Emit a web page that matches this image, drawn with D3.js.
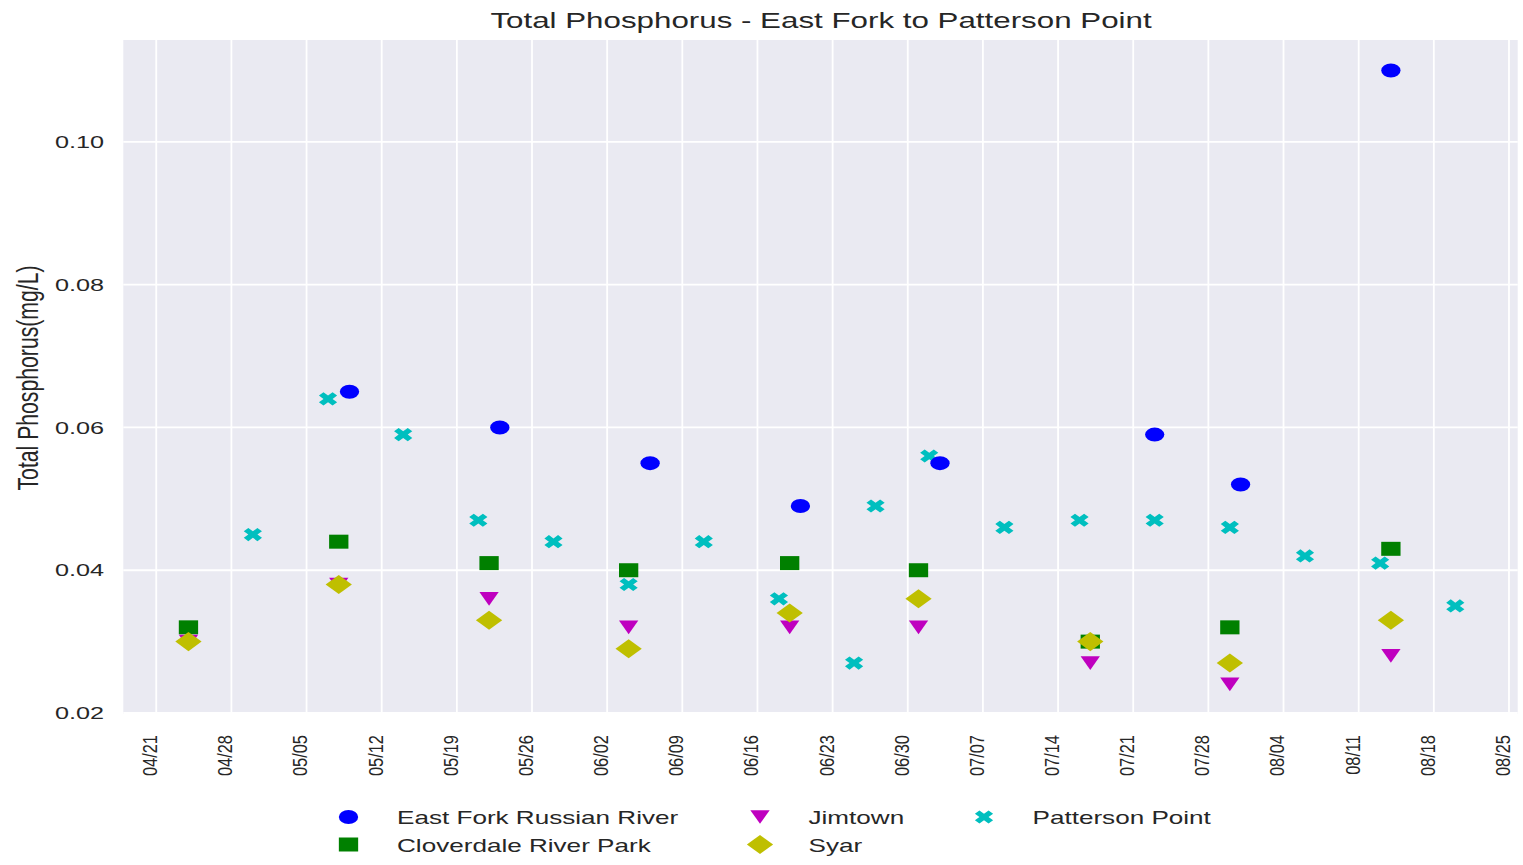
<!DOCTYPE html>
<html><head><meta charset="utf-8">
<script src="https://cdn.jsdelivr.net/npm/d3@7"></script>
<style>
body{margin:0;background:#fff;}
svg{display:block;}
text{font-family:"Liberation Sans",Arial,Helvetica,sans-serif;fill:#262626;}
</style>
</head><body>
<svg id="chart" width="1523" height="865"></svg>
<script>
// ---------------- DATA ----------------
const chartTitle = "Total Phosphorus - East Fork to Patterson Point";
const yAxisLabel = "Total Phosphorus(mg/L)";
const yTickValues = [0.02, 0.04, 0.06, 0.08, 0.10];
const xTickFirst = "2019-04-21";
const xTickLast = "2019-08-25";
const xDomain = ["2019-04-17T22:20", "2019-08-25T19:30"];
const yDomain = [0.01986, 0.11428];

const seriesNames = ["East Fork Russian River", "Cloverdale River Park", "Jimtown", "Syar", "Patterson Point"];

const eastForkDates  = ["2019-05-09","2019-05-23","2019-06-06","2019-06-20","2019-07-03","2019-07-23","2019-07-31","2019-08-14"];
const eastForkValues = [0.065, 0.060, 0.055, 0.049, 0.055, 0.059, 0.052, 0.110];

const sampleDates      = ["2019-04-24","2019-05-08","2019-05-22","2019-06-04","2019-06-19","2019-07-01","2019-07-17","2019-07-30","2019-08-14"];
const cloverdaleValues = [0.032, 0.044, 0.041, 0.040, 0.041, 0.040, 0.030, 0.032, 0.043];
const jimtownValues    = [0.030, 0.038, 0.036, 0.032, 0.032, 0.032, 0.027, 0.024, 0.028];
const syarValues       = [0.030, 0.038, 0.033, 0.029, 0.034, 0.036, 0.030, 0.027, 0.033];

const pattersonDates  = ["2019-04-30","2019-05-07","2019-05-14","2019-05-21","2019-05-28","2019-06-04","2019-06-11","2019-06-18","2019-06-25","2019-06-27","2019-07-02","2019-07-09","2019-07-16","2019-07-23","2019-07-30","2019-08-06","2019-08-13","2019-08-20"];
const pattersonValues = [0.045, 0.064, 0.059, 0.047, 0.044, 0.038, 0.044, 0.036, 0.027, 0.049, 0.056, 0.046, 0.047, 0.047, 0.046, 0.042, 0.041, 0.035];

// ---------------- LAYOUT ----------------
const plot = {left: 123.3, right: 1517.7, top: 40, bottom: 714};
const SXT = 1.45;   // horizontal stretch of text
const SXM = 1.38;   // horizontal stretch of markers
const MR = 7;       // marker radius

const parseDay = d3.utcParse("%Y-%m-%d");
const parseDT = d3.utcParse("%Y-%m-%dT%H:%M");

const svg = d3.select("#chart");

const x = d3.scaleUtc().domain(xDomain.map(parseDT)).range([plot.left, plot.right]);
const y = d3.scaleLinear().domain(yDomain).range([plot.bottom, plot.top]);

// custom matplotlib-like marker shapes
const shapes = {
  circle: {draw(c, r){ c.moveTo(r, 0); c.arc(0, 0, r, 0, 2*Math.PI); c.closePath(); }},
  square: {draw(c, r){ c.rect(-r, -r, 2*r, 2*r); }},
  triDown: {draw(c, r){ const h = r*0.98; c.moveTo(0, h); c.lineTo(-r, -h); c.lineTo(r, -h); c.closePath(); }},
  diamond: {draw(c, r){ const d = r*1.36; c.moveTo(0, -d); c.lineTo(d, 0); c.lineTo(0, d); c.lineTo(-d, 0); c.closePath(); }},
  xFilled: {draw(c, r){
    const pts = [[-1,-3],[1,-3],[1,-1],[3,-1],[3,1],[1,1],[1,3],[-1,3],[-1,1],[-3,1],[-3,-1],[-1,-1]];
    const k = r/3/Math.SQRT2;
    pts.forEach(([a,b], i) => { const px = (a-b)*k, py = (a+b)*k; i ? c.lineTo(px, py) : c.moveTo(px, py); });
    c.closePath();
  }}
};
const symbolPath = t => d3.symbol().type(shapes[t]).size(MR)();

const series = [
  {name: seriesNames[0], dates: eastForkDates, values: eastForkValues, shape: "circle", color: "#0000ff"},
  {name: seriesNames[1], dates: sampleDates, values: cloverdaleValues, shape: "square", color: "#008000"},
  {name: seriesNames[2], dates: sampleDates, values: jimtownValues, shape: "triDown", color: "#bf00bf"},
  {name: seriesNames[3], dates: sampleDates, values: syarValues, shape: "diamond", color: "#bfbf00"},
  {name: seriesNames[4], dates: pattersonDates, values: pattersonValues, shape: "xFilled", color: "#00bfbf"}
];

// background
svg.append("rect").attr("x", plot.left).attr("y", plot.top)
  .attr("width", plot.right - plot.left).attr("height", plot.bottom - plot.top)
  .attr("fill", "#eaeaf2");

// grid (weekly ticks starting on Sunday 04/21)
const xTicks = d3.utcSunday.range(parseDay(xTickFirst), d3.utcDay.offset(parseDay(xTickLast), 1));
const grid = svg.append("g");
grid.selectAll("line.v").data(xTicks).join("line").attr("class","v")
  .attr("x1", d => x(d)).attr("x2", d => x(d)).attr("y1", plot.top).attr("y2", plot.bottom)
  .attr("stroke", "#fff").attr("stroke-width", 1.8);
grid.selectAll("line.h").data(yTickValues).join("line").attr("class","h")
  .attr("x1", plot.left).attr("x2", plot.right).attr("y1", d => y(d)).attr("y2", d => y(d))
  .attr("stroke", "#fff").attr("stroke-width", 1.8);

// y tick labels
const fmtY = d3.format(".2f");
svg.append("g").selectAll("text").data(yTickValues).join("text")
  .attr("transform", d => `translate(104,${y(d)}) scale(${SXT},1)`)
  .attr("text-anchor", "end").attr("dy", "0.35em")
  .style("font-size", "17.4px").text(d => fmtY(d));

// x tick labels
const fmtX = d3.utcFormat("%m/%d");
svg.append("g").selectAll("text").data(xTicks).join("text")
  .attr("transform", d => `translate(${x(d) - 6},735) scale(1.2,1) rotate(-90)`)
  .attr("text-anchor", "end").attr("dy", "0.35em")
  .style("font-size", "16.4px").text(d => fmtX(d));

// y axis label
svg.append("text")
  .attr("transform", `translate(28,378) scale(1.4,1) rotate(-90)`)
  .attr("text-anchor", "middle").attr("dy", "0.35em")
  .style("font-size", "21.2px").text(yAxisLabel);

// title
svg.append("text")
  .attr("transform", `translate(821,20) scale(${SXT},1)`)
  .attr("text-anchor", "middle").attr("dy", "0.35em")
  .style("font-size", "21.6px").text(chartTitle);

// points (Patterson first so others overlay it)
const drawOrder = [4, 0, 1, 2, 3];
const marks = svg.append("g");
drawOrder.forEach(i => {
  const s = series[i];
  const pts = s.dates.map((d, j) => ({date: parseDay(d), value: s.values[j]}));
  marks.append("g").selectAll("path").data(pts).join("path")
    .attr("d", symbolPath(s.shape))
    .attr("transform", d => `translate(${x(d.date)},${y(d.value)}) scale(${SXM},1)`)
    .attr("fill", s.color);
});

// legend (3 columns, column-major)
const legendCols = [348.5, 760, 984];
const legendRows = [817, 844.5];
const legend = svg.append("g");
series.forEach((s, i) => {
  const col = Math.floor(i / 2), row = i % 2;
  const lx = legendCols[col], ly = legendRows[row];
  legend.append("path").attr("d", symbolPath(s.shape))
    .attr("transform", `translate(${lx},${ly}) scale(${SXM},1)`)
    .attr("fill", s.color);
  legend.append("text")
    .attr("transform", `translate(${lx + 48.5},${ly + 1}) scale(${SXT},1)`)
    .attr("dy", "0.35em").style("font-size", "18px").text(s.name);
});
</script>
</body></html>
